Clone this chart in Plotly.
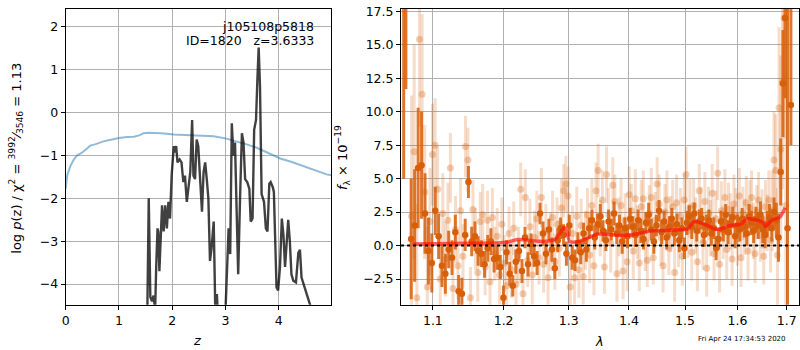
import numpy as np
import plotly.graph_objects as go

# ---------------- redshift fit panel ----------------
chi2_z = [0, 0.03, 0.09, 0.15, 0.21, 0.26, 0.31, 0.38, 0.46, 0.55, 0.71, 0.85, 1.0, 1.15, 1.28,
          1.38, 1.46, 1.55, 1.65, 1.8, 2.03, 2.4, 2.78, 3.0, 3.21, 3.4, 3.59, 3.72, 3.84, 4.03,
          4.25, 4.46, 4.62, 4.78, 4.9, 4.99]
chi2_val = [-1.78, -1.45, -1.24, -1.1, -1.0, -0.97, -0.93, -0.86, -0.77, -0.74, -0.67, -0.63,
            -0.59, -0.57, -0.56, -0.53, -0.48, -0.47, -0.47, -0.48, -0.51, -0.53, -0.55, -0.6,
            -0.67, -0.74, -0.82, -0.89, -0.97, -1.07, -1.15, -1.24, -1.31, -1.39, -1.44, -1.46]

pz_z = [1.53, 1.56, 1.59, 1.62, 1.65, 1.68, 1.70, 1.725, 1.74, 1.76, 1.79, 1.81, 1.84, 1.87, 1.90,
        1.93, 1.96, 1.99, 2.03, 2.05, 2.075, 2.10, 2.14, 2.175, 2.21, 2.24, 2.275, 2.31, 2.34, 2.375,
        2.40, 2.43, 2.46, 2.49, 2.525, 2.56, 2.59, 2.62, 2.65, 2.68, 2.71, 2.74, 2.78, 2.81, 2.84,
        2.87, 2.99, 3.02, 3.06, 3.09, 3.12, 3.15, 3.18, 3.21, 3.24, 3.275, 3.31, 3.34, 3.37, 3.41,
        3.45, 3.475, 3.51, 3.54, 3.575, 3.60, 3.625, 3.65, 3.68, 3.725, 3.76, 3.79, 3.825, 3.85, 3.89,
        3.91, 3.93, 3.96, 3.99, 4.025, 4.06, 4.09, 4.12, 4.15, 4.18, 4.21, 4.24, 4.275, 4.325, 4.37,
        4.40, 4.43, 4.49, 4.56, 4.62]
pz_logp = [-5.0, -2.0, -4.3, -4.4, -4.27, -4.6, -3.6, -2.7, -2.79, -3.7, -2.77, -2.16, -2.77, -2.16, -2.7,
           -2.08, -2.47, -1.47, -0.78, -0.93, -0.78, -1.16, -1.09, -1.16, -1.62, -1.47, -2.08, -1.62, -1.39, -0.17,
           -1.47, -1.55, -0.63, -0.78, -1.55, -2.31, -1.39, -1.16, -1.55, -2.0, -3.46, -3.16, -2.54, -4.6, -4.23,
           -5.0, -5.0, -4.08, -2.7, -3.3, -0.25, -1.0, -0.7, -2.24, -3.77, -2.0, -0.48, -0.7, -1.55, -1.62,
           -1.78, -2.54, -2.47, -0.4, -0.17, 0.75, 1.52, 0.6, -1.9, -2.08, -2.7, -2.77, -1.66, -1.62, -1.74,
           -1.85, -2.85, -4.08, -4.15, -3.6, -2.47, -2.85, -3.6, -3.0, -2.5, -3.0, -3.77, -3.92, -3.96, -3.27,
           -3.2, -3.85, -4.08, -4.31, -4.6]

# ---------------- spectrum panel ----------------
# individual-beam spectrum (light points)
beam_flux = [2.2, 7.0, -3.9, 15.4, 11.3, 4.0, -3.1, 1.8, 6.8, 7.5,
             4.2, -2.5, 2.4, -1.0, 1.9, 5.8, -3.2, 1.2, -1.5, 2.6,
             -0.8, 7.4, 6.4, -3.9, 2.7, 0.5, -2.0, 1.8, 2.3, -1.6,
             1.9, -2.7, 2.1, -0.6, 0.7, -2.2, 1.6, -1.3, -3.0, 0.9,
             -1.8, 1.3, -2.9, -0.7, 4.2, -3.6, 3.6, -1.1, 1.4, -2.2,
             0.6, 2.0, -0.9, 3.6, -1.4, 1.1, -2.4, 0.3, 2.1, -1.2,
             1.6, -0.2, 2.8, 4.1, 4.6, 3.7, -3.1, 0.9, -2.4, 2.2,
             -1.8, 1.5, -2.3, 0.4, 2.3, -0.7, 3.0, -1.5, 4.1, 5.6,
             1.3, 3.4, -1.6, 5.3, 2.3, 0.2, 4.5, 3.3, -2.1, 1.4,
             3.0, -1.9, 1.9, -1.2, 3.8, 2.6, -0.4, 3.5, 1.0, -1.3,
             2.9, 3.5, 0.3, -1.1, 2.4, 3.6, -0.9, 1.9, 4.6, 3.1,
             0.6, -1.5, 2.5, 3.4, -0.2, 1.6, 2.9, -2.0, 3.2, 0.4,
             2.2, -0.8, 3.4, 5.3, 1.1, 2.8, -0.5, 3.0, 1.5, -1.2,
             4.1, 2.3, 0.2, 3.3, -1.7, 2.4, 1.3, 3.9, -0.6, 2.0,
             5.4, -1.4, 2.6, 1.0, 3.6, -0.3, 2.7, 1.8, -1.0, 3.1,
             2.2, 0.5, 3.7, -0.9, 2.4, 1.4, 3.2, -0.4, 2.8, 3.6,
             1.1, -0.6, 2.5, 3.4, 0.8, 2.0, -0.8, 2.9, 1.7, 3.4,
             0.4, 2.6, 6.4, 5.6, -0.7, 10.3, 7.2, 12.2, 17.0, 3.0]
beam_err = [9.0, 8.0, 7.0, 6.5, 6.0, 5.0, 4.5, 4.0, 3.8, 3.5,
            3.2, 3.0, 3.0, 2.8, 2.8, 2.6, 2.6, 2.5, 2.5, 2.4,
            2.4, 2.3, 2.4, 2.3, 2.2, 2.3, 2.2, 2.2, 2.3, 2.1,
            2.2, 2.1, 2.2, 2.0, 2.1, 2.2, 2.0, 2.1, 2.2, 2.0,
            2.1, 2.0, 2.2, 2.1, 2.0, 2.2, 2.1, 2.0, 2.1, 2.2,
            2.0, 2.1, 2.0, 2.2, 2.1, 2.0, 2.1, 2.2, 2.0, 2.1,
            2.0, 2.1, 2.2, 2.0, 2.1, 2.2, 2.0, 2.1, 2.0, 2.2,
            2.1, 2.0, 2.1, 2.2, 2.0, 2.1, 2.0, 2.2, 2.1, 2.0,
            2.1, 2.2, 2.0, 2.1, 2.0, 2.2, 2.1, 2.0, 2.1, 2.2,
            2.0, 2.1, 2.0, 2.2, 2.1, 2.0, 2.1, 2.2, 2.0, 2.1,
            2.0, 2.1, 2.2, 2.0, 2.1, 2.2, 2.0, 2.1, 2.0, 2.2,
            2.1, 2.0, 2.1, 2.2, 2.0, 2.1, 2.0, 2.2, 2.1, 2.0,
            2.1, 2.2, 2.0, 2.1, 2.0, 2.2, 2.1, 2.0, 2.1, 2.2,
            2.0, 2.1, 2.0, 2.2, 2.1, 2.0, 2.1, 2.2, 2.0, 2.1,
            2.0, 2.1, 2.2, 2.0, 2.1, 2.2, 2.0, 2.1, 2.0, 2.2,
            2.1, 2.0, 2.1, 2.2, 2.0, 2.1, 2.0, 2.2, 2.1, 2.0,
            2.1, 2.2, 2.0, 2.1, 2.0, 2.2, 2.1, 2.0, 2.1, 2.2,
            2.4, 3.0, 3.6, 4.2, 5.0, 6.0, 7.0, 8.0, 9.0, 10.0]

# combined (binned) spectrum (dark points)
comb_flux = [0.5, 1.5, 5.8, 6.0, 2.4, -0.4, -1.3, 2.6, 0.7, -1.5,
             -2.1, -0.3, -0.9, 1.0, -3.4, -3.6, 0.8, 4.75, 0.3, 0.7,
             -0.4, -0.6, -1.4, -0.2, 0.3, -1.0, -0.9, -1.6, -3.9, -0.5,
             -2.1, -3.0, -1.2, -0.4, -1.9, 0.6, -1.4, 0.1, -0.8, -1.3,
             2.4, 0.9, -0.6, 1.2, -0.3, -1.7, 0.4, 1.3, 0.8, -0.6,
             1.5, -0.9, -1.1, 0.2, -0.5, 0.9, -0.3, 1.3, 1.9, 0.6,
             1.6, 2.2, 1.1, 0.4, 1.8, 1.2, 2.4, 0.9, 1.5, 0.3,
             1.3, 0.7, 2.0, 1.4, 0.8, 1.9, 1.1, 0.5, 1.7, 2.3,
             1.2, 0.3, 1.5, 2.6, 1.0, 1.8, 0.6, 1.4, 2.0, 0.9,
             1.6, 0.4, 1.3, -0.2, 1.7, 2.2, 1.4, 2.4, 1.1, 1.8,
             2.0, 0.8, 1.5, 1.9, 0.9, 1.3, -0.2, 0.5, 1.8, 1.2,
             2.3, 1.0, 1.6, 2.1, 0.7, 1.5, 1.2, 2.0, 1.4, 0.9,
             2.2, 1.7, 1.1, 2.0, 1.5, 2.3, 1.2, 0.8, 1.6, 2.1,
             1.3, 2.5, 1.9, 0.6, 5.5, 12.1, 17.0]
comb_err = [4.5, 4.2, 4.5, 4.0, 3.0, 2.5, 2.2, 1.8, 1.7, 1.6,
            1.5, 1.4, 1.3, 1.3, 1.2, 1.2, 1.2, 1.2, 1.1, 1.1,
            1.1, 1.0, 1.0, 1.0, 1.0, 1.0, 0.9, 0.9, 0.9, 0.9,
            0.9, 0.8, 0.9, 0.8, 0.9, 0.8, 0.9, 0.8, 0.8, 0.9,
            0.8, 0.9, 0.8, 0.8, 0.9, 0.8, 0.9, 0.8, 0.8, 0.9,
            0.8, 0.9, 0.8, 0.8, 0.9, 0.8, 0.9, 0.8, 0.8, 0.9,
            0.8, 0.9, 0.8, 0.8, 0.9, 0.8, 0.9, 0.8, 0.8, 0.9,
            0.8, 0.9, 0.8, 0.8, 0.9, 0.8, 0.9, 0.8, 0.8, 0.9,
            0.8, 0.9, 0.8, 0.8, 0.9, 0.8, 0.9, 0.8, 0.8, 0.9,
            0.8, 0.9, 0.8, 0.8, 0.9, 0.8, 0.9, 0.8, 0.8, 0.9,
            0.8, 0.9, 0.8, 0.8, 0.9, 0.8, 0.9, 0.8, 0.8, 0.9,
            0.8, 0.9, 0.8, 0.8, 0.9, 0.8, 0.9, 0.8, 0.8, 0.9,
            0.9, 0.9, 0.9, 0.9, 1.0, 1.0, 1.0, 1.0, 1.0, 1.0,
            1.0, 1.1, 1.3, 1.8, 2.5, 4.0, 6.0]

# edge pixels with very large uncertainties
edge_wave = [1.0612, 1.0641, 1.7016, 1.7087]
edge_flux = [20.0, 20.0, 1.3, 10.5]
edge_err_lo = [15.0, 8.3, 10.0, 3.0]
edge_err_hi = [10.0, 10.0, 20.0, 10.0]

# best-fit template
model_wave = [1.0726, 1.10, 1.15, 1.19, 1.2067, 1.219, 1.235, 1.2525, 1.2652, 1.278,
              1.2855, 1.2934, 1.2975, 1.3014, 1.3115, 1.325, 1.3475, 1.3827, 1.407, 1.4384,
              1.4926, 1.5050, 1.5168, 1.528, 1.5425, 1.5556, 1.5700, 1.5866, 1.6050, 1.6211,
              1.6415, 1.6500, 1.6556, 1.6698, 1.6850, 1.6966]
model_flux = [0.12, 0.14, 0.17, 0.2, 0.27, 0.44, 0.42, 0.32, 0.32, 0.45,
              0.9, 1.35, 1.0, 0.32, 0.27, 0.45, 0.86, 0.76, 0.81, 1.1,
              1.18, 1.25, 1.8, 1.72, 1.5, 1.23, 1.28, 1.5, 1.58, 2.0,
              1.87, 1.75, 1.43, 1.92, 2.1, 2.83]

wave_ticks = [1.1, 1.2, 1.3, 1.4, 1.5, 1.6, 1.7]

# uniform spectral pixel grids
beam_wave = np.linspace(1.0715, 1.6980, len(beam_flux))
comb_wave = np.linspace(1.0710, 1.6966, len(comb_flux))

DARK = "rgb(215,95,10)"
FONT = "DejaVu Sans"

fig = go.Figure()

fig.add_trace(go.Scatter(x=chi2_z, y=chi2_val, mode="lines",
                         line=dict(color="rgba(31,119,180,0.5)", width=2),
                         xaxis="x", yaxis="y", showlegend=False))
fig.add_trace(go.Scatter(x=pz_z, y=pz_logp, mode="lines",
                         line=dict(color="rgba(0,0,0,0.75)", width=2.4),
                         xaxis="x", yaxis="y", showlegend=False))

fig.add_trace(go.Scatter(x=beam_wave, y=beam_flux, mode="markers",
                         marker=dict(color="rgba(215,95,10,0.3)", size=7),
                         error_y=dict(type="data", array=beam_err, color="rgba(215,95,10,0.22)",
                                      thickness=3, width=0),
                         xaxis="x2", yaxis="y2", showlegend=False))
fig.add_trace(go.Scatter(x=comb_wave, y=comb_flux, mode="markers",
                         marker=dict(color=DARK, size=6.5),
                         error_y=dict(type="data", array=comb_err, color="rgba(215,95,10,0.85)",
                                      thickness=3, width=0),
                         xaxis="x2", yaxis="y2", showlegend=False))
fig.add_trace(go.Scatter(x=edge_wave, y=edge_flux, mode="markers",
                         marker=dict(color=DARK, size=6.5),
                         error_y=dict(type="data", symmetric=False, array=edge_err_hi,
                                      arrayminus=edge_err_lo, color="rgba(215,95,10,0.85)",
                                      thickness=3, width=0),
                         xaxis="x2", yaxis="y2", showlegend=False))
fig.add_trace(go.Scatter(x=model_wave, y=model_flux, mode="lines",
                         line=dict(color="rgba(255,10,10,0.65)", width=3.5, shape="spline", smoothing=0.6),
                         xaxis="x2", yaxis="y2", showlegend=False))
fig.add_trace(go.Scatter(x=[1.05, 1.75], y=[0, 0], mode="lines",
                         line=dict(color="black", width=2, dash="dot"),
                         xaxis="x2", yaxis="y2", showlegend=False))

axis_common = dict(showline=True, mirror=True, linecolor="black", linewidth=1,
                   showgrid=True, gridcolor="#b0b0b0", gridwidth=1, zeroline=False,
                   ticks="outside", ticklen=4, tickcolor="black",
                   ticklabeloverflow="allow",
                   tickfont=dict(family=FONT, size=12.5, color="black"))

top = 1 - 4 / 350
bot = 1 - 304 / 350

fig.update_layout(
    width=800, height=350,
    margin=dict(l=0, r=0, t=0, b=0),
    paper_bgcolor="white", plot_bgcolor="white",
    font=dict(family=FONT, color="black"),
    xaxis=dict(domain=[62 / 800, 329 / 800], range=[0, 4.99], dtick=1, anchor="y", **axis_common),
    yaxis=dict(domain=[bot, top], range=[-4.48, 2.42], dtick=1, anchor="x", **axis_common),
    xaxis2=dict(domain=[399 / 800, 799 / 800], type="log",
                range=[np.log10(1.0577), np.log10(1.7258)],
                tickvals=wave_ticks, ticktext=[f"{v:.1f}" for v in wave_ticks],
                anchor="y2", **axis_common),
    yaxis2=dict(domain=[bot, top], range=[-4.41, 17.67], dtick=2.5, tickformat=".1f",
                anchor="x2", **axis_common),
)

ann = [
    dict(text="j105108p5818", x=314 / 800, y=1 - 22 / 350, xanchor="right", yanchor="middle",
         font=dict(size=12.5)),
    dict(text="ID=1820\u00a0\u00a0\u00a0z=3.6333", x=314 / 800, y=1 - 36 / 350, xanchor="right",
         yanchor="middle", font=dict(size=12.5)),
    dict(text="log <i>p</i>(z) / χ<sup>2</sup> = <sup>3992</sup>⁄<sub>3546</sub> = 1.13",
         x=12 / 800, y=1 - 155 / 350, textangle=-90, xanchor="center", yanchor="middle",
         font=dict(size=13)),
    dict(text="<i>f</i><sub>λ</sub> × 10<sup>−19</sup>", x=340 / 800, y=1 - 155 / 350,
         textangle=-90, xanchor="center", yanchor="middle", font=dict(size=13)),
    dict(text="<i>z</i>", x=194 / 800, y=1 - 340 / 350, xanchor="center", yanchor="middle",
         font=dict(size=13)),
    dict(text="<i>λ</i>", x=598 / 800, y=1 - 341 / 350, xanchor="center", yanchor="middle",
         font=dict(size=13)),
    dict(text="Fri Apr 24 17:34:53 2020", x=788 / 800, y=1 - 339 / 350, xanchor="right",
         yanchor="middle", font=dict(size=7)),
]
for a in ann:
    a.update(xref="paper", yref="paper", showarrow=False)
fig.update_layout(annotations=ann)

fig.write_html("out.html")
